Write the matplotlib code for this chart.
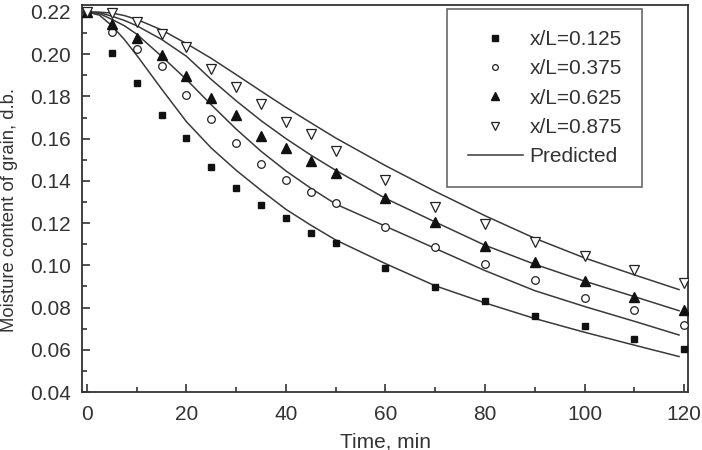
import numpy as np
import matplotlib
matplotlib.use("Agg")
import matplotlib.pyplot as plt
from matplotlib.ticker import MultipleLocator, FormatStrFormatter

# measured points, time in min
t_meas = [0, 5, 10, 15, 20, 25, 30, 35, 40, 45, 50, 60, 70, 80, 90, 100, 110, 120]
m_0125 = [0.220, 0.2004, 0.1862, 0.1713, 0.1604, 0.1467, 0.1366, 0.1285, 0.1225, 0.1154, 0.1108,
          0.0985, 0.0895, 0.0829, 0.0762, 0.0712, 0.0653, 0.0604]
m_0375 = [0.220, 0.2107, 0.2023, 0.1944, 0.1807, 0.1691, 0.1578, 0.1478, 0.1404, 0.1345, 0.1296,
          0.1182, 0.1085, 0.1006, 0.0930, 0.0843, 0.0788, 0.0718]
m_0625 = [0.220, 0.2143, 0.2078, 0.1996, 0.1898, 0.1794, 0.1712, 0.1614, 0.1557, 0.1494, 0.1435,
          0.1317, 0.1203, 0.1091, 0.1016, 0.0925, 0.0851, 0.0788]
m_0875 = [0.220, 0.2194, 0.2154, 0.2094, 0.2036, 0.1930, 0.1843, 0.1763, 0.1680, 0.1620, 0.1541,
          0.1404, 0.1274, 0.1194, 0.1110, 0.1045, 0.0976, 0.0914]

# predicted curves
t_pred = [0, 2.5, 5, 7.5, 10, 15, 20, 25, 30, 35, 40, 45, 50, 60, 70, 80, 90, 100, 110, 119]
p_0125 = [0.220, 0.2185, 0.2135, 0.2070, 0.1995, 0.1835, 0.1680, 0.1555, 0.1450, 0.1355, 0.1265,
          0.1190, 0.1120, 0.1008, 0.0903, 0.0822, 0.0748, 0.0683, 0.0622, 0.0568]
p_0375 = [0.220, 0.2192, 0.2165, 0.2135, 0.2095, 0.1990, 0.1880, 0.1760, 0.1645, 0.1540, 0.1447,
          0.1365, 0.1290, 0.1185, 0.1080, 0.0975, 0.0880, 0.0805, 0.0735, 0.0670]
p_0625 = [0.220, 0.2197, 0.2180, 0.2160, 0.2135, 0.2070, 0.1990, 0.1880, 0.1779, 0.1685, 0.1600,
          0.1522, 0.1450, 0.1317, 0.1205, 0.1095, 0.1005, 0.0925, 0.0852, 0.0785]
p_0875 = [0.220, 0.2199, 0.2195, 0.2183, 0.2165, 0.2115, 0.2050, 0.1980, 0.1903, 0.1825, 0.1748,
          0.1675, 0.1603, 0.1472, 0.1350, 0.1235, 0.1128, 0.1035, 0.0955, 0.0885]

labels = ["x/L=0.125", "x/L=0.375", "x/L=0.625", "x/L=0.875"]

plt.rcParams['font.family'] = ['Liberation Sans', 'DejaVu Sans']
plt.rcParams['font.size'] = 15
ink = '#333333'

fig = plt.figure(figsize=(7.02, 4.5), dpi=100)
ax = fig.add_axes([82/702, 1 - 392/450, 606/702, 387/450])

for p in [p_0125, p_0375, p_0625, p_0875]:
    ax.plot(t_pred, p, color='#3a3a3a', lw=1.1, zorder=2)

h1, = ax.plot(t_meas, m_0125, 's', color='#111111', ms=5, ls='none', zorder=3)
h2, = ax.plot(t_meas, m_0375, 'o', mfc='white', mec='#222222', mew=0.9, ms=5.5, ls='none', zorder=3)
h3, = ax.plot(t_meas, m_0625, '^', color='#111111', ms=7, ls='none', zorder=3)
h4, = ax.plot(t_meas, m_0875, 'v', mfc='white', mec='#222222', mew=0.9, ms=7.5, ls='none', zorder=3)
hl, = ax.plot([], [], color='#3a3a3a', lw=1.1)

ax.set_xlim(-1.0, 120.8)
ax.set_ylim(0.04, 0.2233)
ax.set_xticks(np.arange(0, 121, 20))
ax.set_yticks(np.arange(0.04, 0.2201, 0.02))
ax.yaxis.set_major_formatter(FormatStrFormatter('%.2f'))
ax.xaxis.set_minor_locator(MultipleLocator(10))
ax.yaxis.set_minor_locator(MultipleLocator(0.01))
ax.tick_params(which='both', direction='in', colors=ink, labelcolor=ink, width=1.2)
ax.tick_params(which='major', length=6, labelsize=15)
ax.tick_params(which='minor', length=3.5)
ax.tick_params(axis='x', pad=9)
ax.tick_params(axis='y', pad=8)
for s in ax.spines.values():
    s.set_color(ink)
    s.set_linewidth(1.3)

ax.set_xlabel("Time, min", color=ink, fontsize=15, va='top')
ax.xaxis.set_label_coords(0.5, (392 - 432) / 387)
ax.set_ylabel("Moisture content of grain, d.b.", color=ink, fontsize=13.3, va='center')
ax.yaxis.set_label_coords((10 - 82) / 606, (392 - 210) / 387)

leg = ax.legend([h1, h2, h3, h4, hl], labels + ["Predicted"],
                loc='upper left', bbox_to_anchor=(447/702, 1 - 9/450),
                bbox_transform=fig.transFigure, frameon=True, fancybox=False,
                handlelength=2.65, handletextpad=0.3, labelspacing=0.5,
                borderpad=1.0, borderaxespad=0, markerscale=0.75, fontsize=15)
leg.get_frame().set_edgecolor(ink)
leg.get_frame().set_linewidth(1.1)
for txt in leg.get_texts():
    txt.set_color(ink)

fig.savefig("out.png", dpi=100)
